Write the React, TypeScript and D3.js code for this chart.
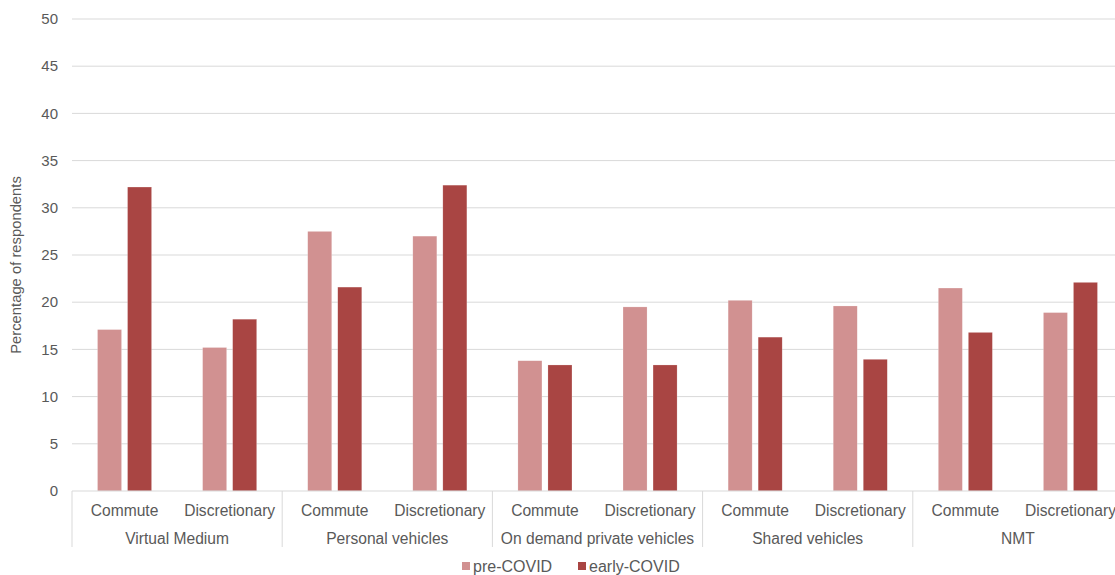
import React from "react";
import * as d3 from "d3";

const groups = ["Virtual Medium", "Personal vehicles", "On demand private vehicles", "Shared vehicles", "NMT"];
const subs = ["Commute", "Discretionary"];
const series = ["pre-COVID", "early-COVID"];
const preCovid = [17.1, 15.2, 27.5, 27.0, 13.8, 19.5, 20.2, 19.6, 21.5, 18.9];
const earlyCovid = [32.2, 18.2, 21.6, 32.4, 13.35, 13.35, 16.3, 13.95, 16.8, 22.1];
const yTicks = [0, 5, 10, 15, 20, 25, 30, 35, 40, 45, 50];
const colors = ["#d19191", "#a94543"];

const W = 1115, H = 575;
const left = 72, right = 1123, top = 19, bottom = 491;
const font = "'Liberation Sans', Arial, sans-serif";
const textColor = "#595959";
const gridColor = "#d9d9d9";

export default function App() {
  const cats = groups.flatMap((g, gi) => subs.map((s, si) => ({ key: `${gi}-${si}`, g, s, gi, idx: gi * subs.length + si })));
  const x0 = d3.scaleBand<string>().domain(cats.map(c => c.key)).range([left, right]).padding(0);
  const xg = d3.scaleBand<string>().domain(groups).range([left, right]).padding(0);
  const x1 = d3.scaleBand<string>().domain(series).range([0, x0.bandwidth()]).paddingInner(0.2).paddingOuter(0.85);
  const y = d3.scaleLinear().domain([0, 50]).range([bottom, top]);
  const vals = [preCovid, earlyCovid];

  return (
    <svg width={W} height={H} style={{ position: "absolute", left: 0, top: 0, background: "#fff" }} fontFamily={font}>
      {yTicks.map(t => (
        <g key={t}>
          {t !== 0 && <line x1={left} x2={W} y1={y(t)} y2={y(t)} stroke={gridColor} strokeWidth={1} />}
          <text x={58} y={y(t)} dy="0.35em" textAnchor="end" fontSize={15} fill={textColor}>{t}</text>
        </g>
      ))}
      <text transform={`translate(21,265) rotate(-90)`} textAnchor="middle" fontSize={14.8} fill={textColor}>Percentage of respondents</text>
      {cats.map(c => series.map((s, si) => {
        const v = vals[si][c.idx];
        return (
          <rect key={c.key + s} x={(x0(c.key) as number) + (x1(s) as number)} y={y(v)} width={x1.bandwidth()} height={bottom - y(v)} fill={colors[si]} stroke="#fff" strokeOpacity={0.4} strokeWidth={0.5} />
        );
      }))}
      <line x1={left} x2={W} y1={bottom} y2={bottom} stroke={gridColor} strokeWidth={1} />
      {groups.map(g => (
        <line key={g} x1={xg(g) as number} x2={xg(g) as number} y1={bottom} y2={547} stroke={gridColor} strokeWidth={1} />
      ))}
      {cats.map(c => (
        <text key={c.key} x={(x0(c.key) as number) + x0.bandwidth() / 2} y={516} textAnchor="middle" fontSize={15.6} fill={textColor}>{c.s}</text>
      ))}
      {groups.map(g => (
        <text key={g} x={(xg(g) as number) + xg.bandwidth() / 2} y={544} textAnchor="middle" fontSize={15.6} fill={textColor}>{g}</text>
      ))}
      <g>
        <rect x={462} y={562} width={8} height={8} fill={colors[0]} />
        <text x={473} y={572} fontSize={16} fill={textColor}>{series[0]}</text>
        <rect x={578} y={562} width={8} height={8} fill={colors[1]} />
        <text x={589} y={572} fontSize={16} fill={textColor}>{series[1]}</text>
      </g>
    </svg>
  );
}
